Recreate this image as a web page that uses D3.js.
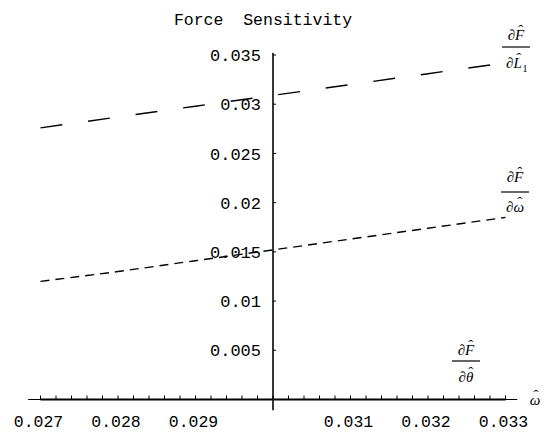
<!DOCTYPE html>
<html>
  <head>
    <script src="https://d3js.org/d3.v7.min.js"></script>
    <style>
      body { margin: 0; background: #fff; }
      text { fill: #000; }
    </style>
  </head>
  <body>
    <script>

    // data
    const omegaValues = [0.027, 0.028, 0.029, 0.030, 0.031, 0.032, 0.033];
    const dFdL1 = [0.0276, 0.0287, 0.0298, 0.0309, 0.0320, 0.0331, 0.0342];
    const dFdW = [0.0120, 0.0130, 0.0141, 0.0152, 0.0163, 0.0174, 0.0185];
    const dFdTheta = [0, 0, 0, 0, 0, 0, 0];

    const xTickLabels = [0.027, 0.028, 0.029, 0.031, 0.032, 0.033];
    const yTickLabels = [0.005, 0.01, 0.015, 0.02, 0.025, 0.03, 0.035];

    const width = 544;
    const height = 435;

    const svg = d3.select("body")
      .append("svg")
      .attr("width", width)
      .attr("height", height);

    const x = d3.scaleLinear()
      .domain([0.027, 0.033])
      .range([40.5, 505.5]);

    const y = d3.scaleLinear()
      .domain([0, 0.035])
      .range([399.5, 55]);

    const mono = "'Liberation Mono', 'DejaVu Sans Mono', monospace";
    const serif = "'Liberation Serif', 'DejaVu Serif', serif";

    // title
    svg.append("text")
      .attr("x", 263)
      .attr("y", 25)
      .attr("text-anchor", "middle")
      .style("font-family", mono)
      .style("font-size", "16.5px")
      .style("white-space", "pre")
      .text("Force  Sensitivity");

    // curves
    const line = d3.line()
      .x((d, i) => x(omegaValues[i]))
      .y(d => y(d));

    svg.append("path")
      .datum(dFdL1)
      .attr("d", line)
      .attr("fill", "none")
      .attr("stroke", "#000")
      .attr("stroke-width", 1.4)
      .attr("stroke-dasharray", "22,26");

    svg.append("path")
      .datum(dFdW)
      .attr("d", line)
      .attr("fill", "none")
      .attr("stroke", "#000")
      .attr("stroke-width", 1.4)
      .attr("stroke-dasharray", "9,6");

    svg.append("path")
      .datum(dFdTheta)
      .attr("d", line)
      .attr("fill", "none")
      .attr("stroke", "#000")
      .attr("stroke-width", 2.2);

    // axes, crossing at omega = 0.03
    const x0 = x(0.03);
    svg.append("line")
      .attr("x1", x(0.02684)).attr("x2", x(0.03315))
      .attr("y1", y(0)).attr("y2", y(0))
      .attr("stroke", "#000").attr("stroke-width", 1);

    svg.append("line")
      .attr("x1", x0).attr("x2", x0)
      .attr("y1", y(-0.0011)).attr("y2", y(0.0352))
      .attr("stroke", "#222").attr("stroke-width", 1.8);

    // x minor ticks every 0.0002
    const xMinor = d3.range(0, 31).map(i => 0.027 + i * 0.0002);
    svg.selectAll(".xtick")
      .data(xMinor)
      .join("line")
      .attr("x1", d => x(d)).attr("x2", d => x(d))
      .attr("y1", y(0)).attr("y2", y(0) - 4)
      .attr("stroke", "#000").attr("stroke-width", 1);

    svg.selectAll(".xlab")
      .data(xTickLabels)
      .join("text")
      .attr("x", d => x(d) - 2)
      .attr("y", 427)
      .attr("text-anchor", "middle")
      .style("font-family", mono)
      .style("font-size", "16.5px")
      .text(d => d3.format(".3f")(d));

    // y ticks
    svg.selectAll(".ytick")
      .data(yTickLabels)
      .join("line")
      .attr("x1", x0).attr("x2", x0 + 3)
      .attr("y1", d => y(d)).attr("y2", d => y(d))
      .attr("stroke", "#000").attr("stroke-width", 1);

    svg.selectAll(".ylab")
      .data(yTickLabels)
      .join("text")
      .attr("x", 261)
      .attr("y", d => y(d))
      .attr("dy", "0.36em")
      .attr("text-anchor", "end")
      .style("font-family", mono)
      .style("font-size", "17px")
      .text(d => String(+d.toFixed(3)));

    // italic text with a hat over chosen characters
    function hatText(g, cx, cy, str, hats, size) {
      const t = g.append("text")
        .attr("x", cx).attr("y", cy)
        .attr("text-anchor", "middle")
        .style("font-family", serif)
        .style("font-style", "italic")
        .style("font-size", size + "px")
        .text(str);
      hats.forEach(i => {
        const b = t.node().getExtentOfChar(i);
        g.append("text")
          .attr("x", b.x + b.width / 2 + 1)
          .attr("y", b.y + size * 0.42 + 2)
          .attr("text-anchor", "middle")
          .style("font-family", serif)
          .style("font-size", size + "px")
          .text("\u02C6");
      });
      return t;
    }

    // axis label
    hatText(svg.append("g"), 535, 405, "\u03C9", [0], 15);

    // fraction labels
    function fraction(cx, numY, barY, denY, den, hats, sub) {
      const g = svg.append("g");
      hatText(g, cx, numY, "\u2202F", [1], 15);
      g.append("line")
        .attr("x1", cx - 14).attr("x2", cx + 14)
        .attr("y1", barY).attr("y2", barY)
        .attr("stroke", "#000").attr("stroke-width", 1.2);
      const t = hatText(g, cx - (sub ? 2 : 0), denY, den, hats, 15);
      if (sub) {
        const b = t.node().getBBox();
        g.append("text")
          .attr("x", b.x + b.width + 0.5)
          .attr("y", denY + 4)
          .style("font-family", serif)
          .style("font-size", "10px")
          .text(sub);
      }
    }

    fraction(516, 40, 47, 68, "\u2202L", [1], "1");
    fraction(515, 182, 192, 212, "\u2202\u03C9", [1]);
    fraction(466, 355, 361, 382, "\u2202\u03B8", [1]);

    </script>
  </body>
</html>
